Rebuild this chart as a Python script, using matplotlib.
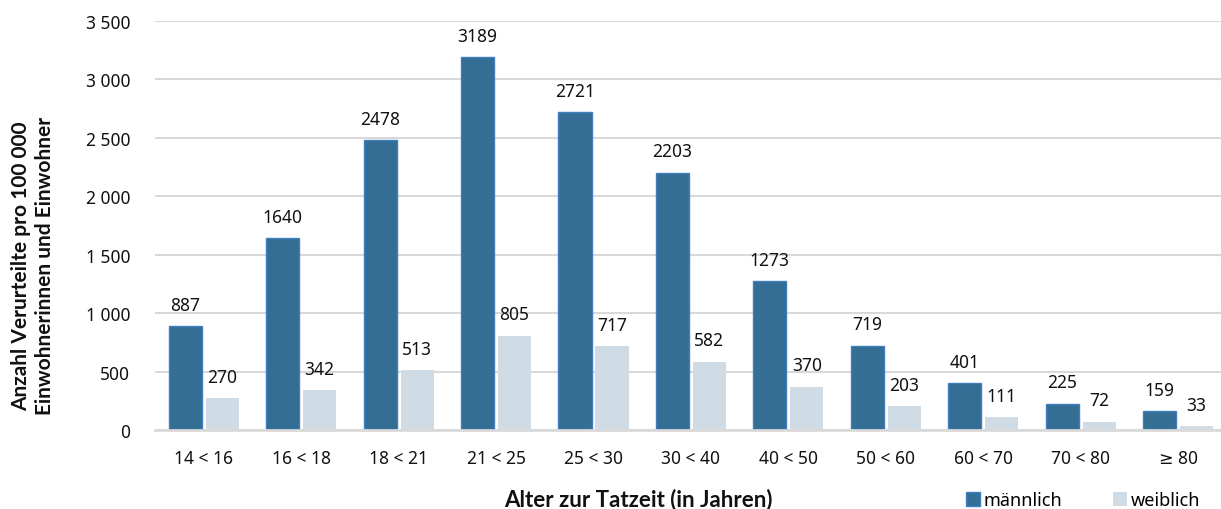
import matplotlib
matplotlib.use("Agg")
import matplotlib.pyplot as plt
import numpy as np
from matplotlib.ticker import FuncFormatter

categories = ["14 < 16", "16 < 18", "18 < 21", "21 < 25", "25 < 30", "30 < 40",
              "40 < 50", "50 < 60", "60 < 70", "70 < 80", "≥ 80"]
maennlich = [887, 1640, 2478, 3189, 2721, 2203, 1273, 719, 401, 225, 159]
weiblich = [270, 342, 513, 805, 717, 582, 370, 203, 111, 72, 33]
y_ticks = [0, 500, 1000, 1500, 2000, 2500, 3000, 3500]

plt.rcParams['font.family'] = ['Noto Sans', 'DejaVu Sans']
BOLD = ['Lato', 'DejaVu Sans']

fig = plt.figure(figsize=(12.21, 5.10), dpi=100)
ax = fig.add_axes([155/1221, 79/510, (1221-155)/1221, (431-22)/510])

x = np.arange(len(categories))
w = 0.34
off = 0.19
dark = "#346e94"
light = "#cfdce5"
b1 = ax.bar(x - off, maennlich, w, color=dark, edgecolor="#3f7fc0", linewidth=1.0, zorder=3, label="männlich")
b2 = ax.bar(x + off, weiblich, w, color=light, edgecolor=light, linewidth=0, zorder=3, label="weiblich")

for xi, v in zip(x, maennlich):
    ax.annotate(str(v), (xi - off, v), xytext=(0, 9), textcoords="offset points",
                ha="center", va="bottom", fontsize=12.5, color="#111111", annotation_clip=False)
for xi, v in zip(x, weiblich):
    ax.annotate(str(v), (xi + off, v), xytext=(0, 9), textcoords="offset points",
                ha="center", va="bottom", fontsize=12.5, color="#111111", annotation_clip=False)

ax.set_xlim(-0.5, 10.44)
ax.set_ylim(0, 3500)
ax.set_yticks(y_ticks)
ax.yaxis.set_major_formatter(FuncFormatter(lambda v, p: f"{int(v):,}".replace(",", " ")))
ax.set_xticks(x)
ax.set_xticklabels(categories)
ax.tick_params(axis="both", length=0, labelsize=12.5, colors="#111111")
ax.tick_params(axis="y", pad=18)
ax.tick_params(axis="x", pad=14)

ax.grid(axis="y", color="#d9d9d9", linewidth=1.5, zorder=0)
for s in ["top", "right", "left"]:
    ax.spines[s].set_visible(False)
ax.spines["bottom"].set_color("#d9d9d9")
ax.spines["bottom"].set_linewidth(2)
ax.spines["bottom"].set_zorder(4)

fig.text(33/1221, 1 - 266/510, "Anzahl Verurteilte pro 100 000\nEinwohnerinnen und Einwohner",
         rotation=90, ha="center", va="center", fontsize=15, fontweight="bold",
         family=BOLD, linespacing=1.25, color="#111111")
fig.text(638/1221, 1 - 500/510, "Alter zur Tatzeit (in Jahren)", ha="center", va="center",
         fontsize=16, fontweight="bold", family=BOLD, color="#111111")

leg = fig.legend(handles=[b1, b2], labels=["männlich", "weiblich"], loc="center",
                 bbox_to_anchor=(1083/1221, 1 - 501/510), ncol=2, frameon=False,
                 fontsize=13, handlelength=0.8, handleheight=0.8, handletextpad=0.2,
                 columnspacing=2.8, borderpad=0)

fig.savefig("out.png", dpi=100)
